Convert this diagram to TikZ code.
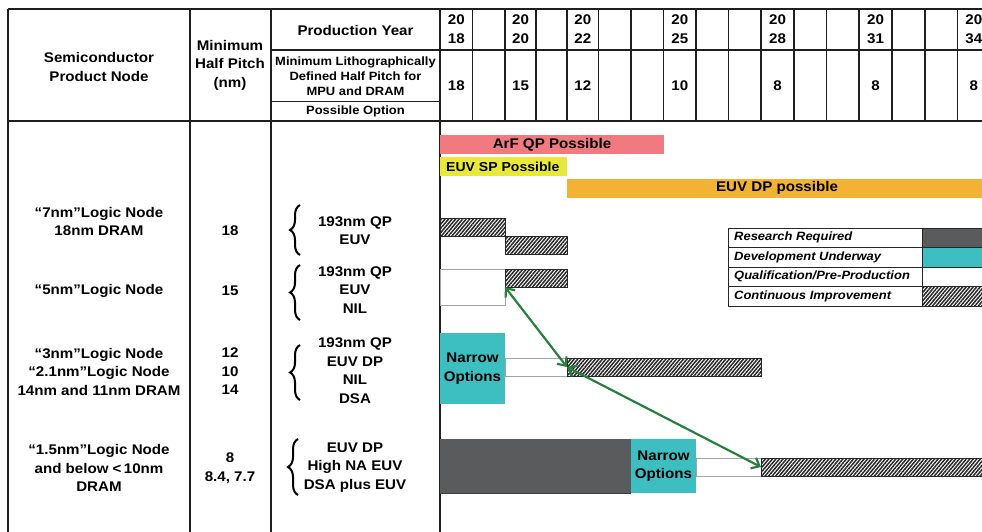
\documentclass[tikz,border=0pt]{standalone}
\usepackage{fontspec}
\setmainfont{Liberation Sans}[FakeStretch=1.08]
\usetikzlibrary{patterns.meta,decorations.pathreplacing,arrows.meta}
\definecolor{pinkbar}{RGB}{240,122,128}
\definecolor{yellowbar}{RGB}{232,232,60}
\definecolor{orangebar}{RGB}{242,178,51}
\definecolor{tealbox}{RGB}{61,190,192}
\definecolor{darkbox}{RGB}{90,91,93}
\definecolor{arrowgreen}{RGB}{40,128,62}
\definecolor{greyline}{RGB}{165,165,165}
\begin{document}
\begin{tikzpicture}[x=1pt,y=-1pt,
  tl/.style={line width=1.3pt, draw=black!88},
  txt/.style={font=\bfseries\fontsize{14}{18.5}\selectfont, align=center, inner sep=0pt},
  yrtxt/.style={font=\bfseries\fontsize{14}{19}\selectfont, align=center, inner sep=0pt},
  smalltxt/.style={font=\bfseries\fontsize{12}{14.8}\selectfont, align=center, inner sep=0pt},
  legtxt/.style={font=\bfseries\itshape\fontsize{12}{14}\selectfont, anchor=west, inner sep=0pt},
  barbox/.style={anchor=north west, inner sep=0pt, outer sep=0pt},
  hatchbox/.style={barbox, draw=black!85, line width=0.8pt, pattern={Lines[angle=50,distance=2.7pt,line width=1.5pt]}, pattern color=black!85},
  whitebox/.style={barbox, draw=greyline, line width=1pt, fill=white},
  optbrace/.style={decorate, decoration={brace, amplitude=10pt, aspect=0.5}, line width=2pt, draw=black},
  garrow/.style={draw=arrowgreen, line width=2.2pt, {Straight Barb[length=7pt,width=12pt]}-{Straight Barb[length=7pt,width=12pt]}}
]
\useasboundingbox (0,0) rectangle (982,531);

% ---------- table frame ----------
\draw[tl] (8,9) -- (990,9);
\draw[tl] (8,121) -- (990,121);
\draw[tl] (8,9) -- (8,540);
\draw[tl] (190,9) -- (190,540);
\draw[tl] (271,9) -- (271,540);
\draw[tl] (440,9) -- (440,540);
\draw[tl] (271,50) -- (990,50);
\draw[tl] (271,101.5) -- (440,101.5);
\foreach \x in {472.5,505,536,567,598.5,631,663.5,696,728.5,761,794,826.5,859,892,925,957.5}
  \draw[tl] (\x,9) -- (\x,121);

% ---------- header texts ----------
\node[txt] (hnode) at (99,67) {Semiconductor\\Product Node};
\node[txt] (hpitch) at (230,65) {Minimum\\Half Pitch\\(nm)};
\node[txt] (hyear) at (355.5,30.5) {Production Year};
\node[smalltxt] (hlitho) at (355.5,76.5) {Minimum Lithographically\\Defined Half Pitch for\\MPU and DRAM};
\node[smalltxt] (hopt) at (355.5,111.5) {Possible Option};

\foreach \x/\b/\p in {456.25/18/18, 520.5/20/15, 582.75/22/12, 679.75/25/10, 777.5/28/8, 875.5/31/8, 973.75/34/8}{
  \node[yrtxt] (yr\b) at (\x,29) {20\\\b};
  \node[txt] (pv\b) at (\x,85.5) {\p};
}

% ---------- row texts ----------
\node[txt] (n1) at (99,221.5) {“7nm”Logic Node\\18nm DRAM};
\node[txt] (p1) at (230,230.5) {18};
\node[txt] (o1) at (355,230.5) {193nm QP\\EUV};
\draw[optbrace] (300,255) -- (300,205);

\node[txt] (n2) at (99,290.5) {“5nm”Logic Node};
\node[txt] (p2) at (230,290.5) {15};
\node[txt] (o2) at (355,290) {193nm QP\\EUV\\NIL};
\draw[optbrace] (300,320) -- (300,265);

\node[txt] (n3) at (99,371.5) {“3nm”Logic Node\\“2.1nm”Logic Node\\14nm and 11nm DRAM};
\node[txt] (p3) at (230,371.5) {12\\10\\14};
\node[txt] (o3) at (355,370.5) {193nm QP\\EUV DP\\NIL\\DSA};
\draw[optbrace] (300,400) -- (300,345);

\node[txt] (n4) at (99,468) {“1.5nm”Logic Node\\and below <\,10nm\\DRAM};
\node[txt] (p4) at (230,468) {8\\8.4, 7.7};
\node[txt] (o4) at (355,467.5) {EUV DP\\High NA EUV\\DSA plus EUV};
\draw[optbrace] (298,495) -- (298,439);

% ---------- possibility bars ----------
\node[barbox, fill=pinkbar, minimum width=224pt, minimum height=19pt] (arf) at (440,135) {};
\node[txt] (arft) at (arf.center) {ArF QP Possible};
\node[barbox, fill=yellowbar, minimum width=127pt, minimum height=19pt] (euvsp) at (440,157) {};
\node[txt, anchor=west, font=\bfseries\fontsize{13}{16}\selectfont] (euvspt) at (446,166.5) {EUV SP Possible};
\node[barbox, fill=orangebar, minimum width=423pt, minimum height=19pt] (euvdp) at (567,178.5) {};
\node[txt] (euvdpt) at (777,188) {EUV DP possible};

% ---------- row 1 ----------
\node[hatchbox, minimum width=65pt, minimum height=18pt] (h1a) at (440,218) {};
\node[hatchbox, minimum width=62pt, minimum height=18pt] (h1b) at (505,236) {};

% ---------- row 2 ----------
\node[whitebox, minimum width=65pt, minimum height=36pt] (w2) at (440,269) {};
\node[hatchbox, minimum width=62pt, minimum height=18pt] (h2) at (505,269) {};

% ---------- row 3 ----------
\node[barbox, fill=tealbox, minimum width=65pt, minimum height=71pt] (t3) at (440,333) {};
\node[txt] (t3t) at (t3.center) {Narrow\\Options};
\node[whitebox, minimum width=62pt, minimum height=18pt] (w3) at (505,358) {};
\node[hatchbox, minimum width=194pt, minimum height=18pt] (h3) at (567,358) {};

% ---------- row 4 ----------
\node[barbox, fill=darkbox, minimum width=191pt, minimum height=54pt] (d4) at (440,439) {};
\draw[black!75, line width=1pt] (d4.south west) -- (d4.south east);
\node[barbox, fill=tealbox, minimum width=65pt, minimum height=54pt] (t4) at (631,439) {};
\node[txt] (t4t) at (t4.center) {Narrow\\Options};
\node[whitebox, minimum width=65pt, minimum height=18pt] (w4) at (696,458) {};
\node[hatchbox, minimum width=240pt, minimum height=18pt] (h4) at (761,458) {};

% ---------- legend ----------
\node[barbox, draw=black!85, line width=1pt, fill=white, minimum width=194pt, minimum height=19.5pt] (l1) at (728.5,228) {};
\node[barbox, draw=black!85, line width=1pt, fill=darkbox, minimum width=70pt, minimum height=19.5pt] (l1c) at (922,228) {};
\node[barbox, draw=black!85, line width=1pt, fill=white, minimum width=194pt, minimum height=19.5pt] (l2) at (728.5,247.5) {};
\node[barbox, draw=black!85, line width=1pt, fill=tealbox, minimum width=70pt, minimum height=19.5pt] (l2c) at (922,247.5) {};
\node[barbox, draw=black!85, line width=1pt, fill=white, minimum width=194pt, minimum height=19.5pt] (l3) at (728.5,267) {};
\node[barbox, draw=black!85, line width=1pt, fill=white, minimum width=70pt, minimum height=19.5pt] (l3c) at (922,267) {};
\node[barbox, draw=black!85, line width=1pt, fill=white, minimum width=194pt, minimum height=19.5pt] (l4) at (728.5,286.5) {};
\node[hatchbox, line width=1pt, minimum width=70pt, minimum height=19.5pt] (l4c) at (922,286.5) {};
\node[legtxt] (l1t) at (734,237.75) {Research Required};
\node[legtxt] (l2t) at (734,257.25) {Development Underway};
\node[legtxt] (l3t) at (734,276.75) {Qualification/Pre-Production};
\node[legtxt] (l4t) at (734,296.25) {Continuous Improvement};

% ---------- green arrows ----------
\draw[garrow] (h2.south west) -- (h3.west);
\draw[garrow] (h3.west) -- (h4.west);
\end{tikzpicture}
\end{document}
